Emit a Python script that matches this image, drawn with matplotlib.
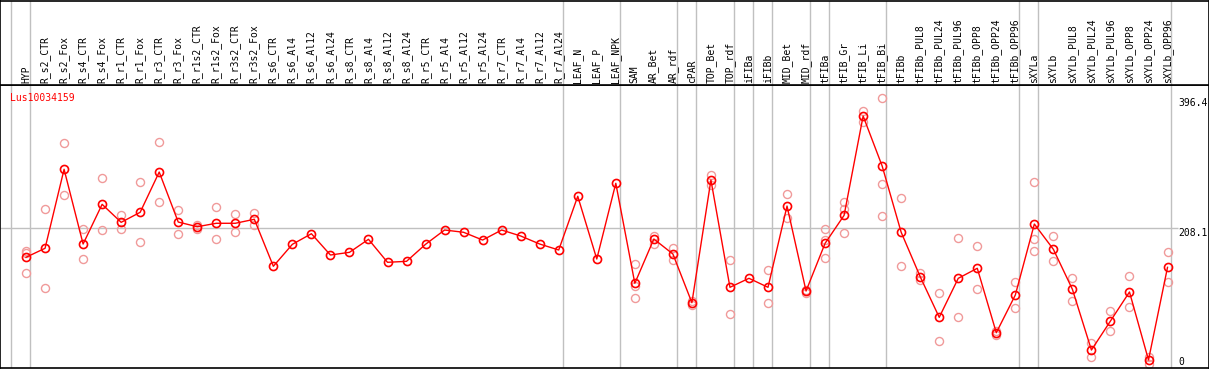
import matplotlib
matplotlib.use("Agg")
import matplotlib.pyplot as plt

labels = ["HYP", "R_s2_CTR", "R_s2_Fox", "R_s4_CTR", "R_s4_Fox", "R_r1_CTR", "R_r1_Fox",
          "R_r3_CTR", "R_r3_Fox", "R_r1s2_CTR", "R_r1s2_Fox", "R_r3s2_CTR", "R_r3s2_Fox",
          "R_s6_CTR", "R_s6_Al4", "R_s6_Al12", "R_s6_Al24", "R_s8_CTR", "R_s8_Al4",
          "R_s8_Al12", "R_s8_Al24", "R_r5_CTR", "R_r5_Al4", "R_r5_Al12", "R_r5_Al24",
          "R_r7_CTR", "R_r7_Al4", "R_r7_Al12", "R_r7_Al24", "LEAF_N", "LEAF_P", "LEAF_NPK",
          "SAM", "AR_Bet", "AR_rdf", "cPAR", "TOP_Bet", "TOP_rdf", "iFIBa", "iFIBb",
          "MID_Bet", "MID_rdf", "tFIBa", "tFIB_Gr", "tFIB_Li", "tFIB_Bi", "tFIBb",
          "tFIBb_PUL8", "tFIBb_PUL24", "tFIBb_PUL96", "tFIBb_OPP8", "tFIBb_OPP24",
          "tFIBb_OPP96", "sXYLa", "sXYLb", "sXYLb_PUL8", "sXYLb_PUL24", "sXYLb_PUL96",
          "sXYLb_OPP8", "sXYLb_OPP24", "sXYLb_OPP96"]

# sizes of the column groups (separated by grey lines)
group_sizes = [1, 28, 3, 3, 1, 2, 1, 1, 2, 1, 3, 7, 1, 7]

means = [165.1, 178.2, 293.2, 184.4, 242.2, 216.0, 230.6, 289.2, 216.4, 209.6, 214.6,
         214.6, 220.4, 152.0, 184.0, 199.4, 168.4, 172.3, 191.3, 157.8, 159.2, 184.0,
         204.8, 201.5, 190.2, 204.8, 196.1, 184.4, 175.7, 253.9, 162.6, 272.8, 127.2,
         191.7, 169.9, 99.0, 277.6, 121.4, 134.5, 121.4, 239.7, 116.0, 185.4, 226.2,
         370.7, 298.0, 201.5, 136.8, 77.7, 134.5, 149.1, 55.3, 110.2, 213.5, 176.7,
         118.5, 30.1, 72.3, 114.6, 15.6, 150.5]

replicates = [
    [174.2, 170.9, 142.6], [235.4, 119.9], [331.0, 255.3], [205.8, 162.2], [280.1, 204.4],
    [226.2, 205.8], [274.2, 186.9], [332.5, 245.1], [233.5, 198.5], [212.5, 205.8],
    [238.3, 191.3], [228.1, 201.5], [229.5, 211.6],
    [], [], [], [], [], [], [], [], [], [], [], [], [], [], [], [], [], [], [],
    [155.3, 105.4, 123.3], [196.5, 184.4], [178.6, 161.1], [101.9, 95.6], [284.9, 270.3],
    [160.7, 82.5], [], [146.6, 98.5], [256.8, 222.7], [117.9, 113.5],
    [205.8, 190.2, 163.6], [245.6, 235.4, 200.0], [378.0, 362.4], [396.4, 271.3, 225.2],
    [250.9, 152.4], [142.6, 132.0], [112.7, 42.8], [192.7, 77.7], [181.1, 118.5],
    [58.2, 52.0], [128.7, 90.8], [274.2, 192.1, 173.8], [196.1, 159.2], [134.5, 101.5],
    [39.9, 19.9], [86.9, 57.4], [137.8, 92.7], [20.4, 9.8], [172.3, 128.7]]

gene = "Lus10034159"
ymax_label = 396.4
ymid_label = 208.1

W, H = 1209, 370
top_px, bot_px = 85, 368
fig = plt.figure(figsize=(W / 100, H / 100), dpi=100)
ax = fig.add_axes([0, 1 - bot_px / H, 1, (bot_px - top_px) / H])
axh = fig.add_axes([0, 1 - top_px / H, 1, top_px / H - 0.5 / H], sharex=ax)

n = len(labels)
xs = list(range(n))
mono = "DejaVu Sans Mono"
grey = "#c0c0c0"

ax.set_xlim(-1.368, 62.18)
ax.set_ylim(3.93, 415.9)

# group separators
bounds = [-1]
for s in group_sizes:
    bounds.append(bounds[-1] + s)
for b in bounds:
    ax.axvline(b + 0.2, color=grey, lw=1, zorder=0)
    axh.axvline(b + 0.2, color=grey, lw=1, zorder=0)

ax.hlines(ymid_label, -1.368, n - 0.45, color=grey, lw=1, zorder=0)

for i, reps in enumerate(replicates):
    if reps:
        ax.plot([i] * len(reps), reps, "o", ms=5.8, mfc="none", mec="#f09a9a", mew=1.0, zorder=2)

ax.plot(xs, means, "-", color="red", lw=1, zorder=3)
ax.plot(xs, means, "o", ms=5.8, mfc="none", mec="red", mew=1.2, zorder=4)

ax.text(10 / W, 1 - 13 / (bot_px - top_px), gene, transform=ax.transAxes, color="red",
        fontsize=7, family=mono, va="center", ha="left")

ax.text(n - 0.45, ymax_label, str(ymax_label), fontsize=7, family=mono, va="top", ha="left")
ax.text(n - 0.45, ymid_label, str(ymid_label), fontsize=7, family=mono, va="top", ha="left")
ax.text(n - 0.45, 6, "0", fontsize=7, family=mono, va="bottom", ha="left")

for i, lab in enumerate(labels):
    axh.text(i, 0.02, lab, rotation=90, fontsize=7, family=mono, ha="center", va="bottom")

for a in (ax, axh):
    a.set_xticks([])
    a.set_yticks([])
    for sp in a.spines.values():
        sp.set_color("black")
        sp.set_linewidth(1.2)
axh.set_ylim(0, 1)

fig.savefig("out.png", dpi=100)
